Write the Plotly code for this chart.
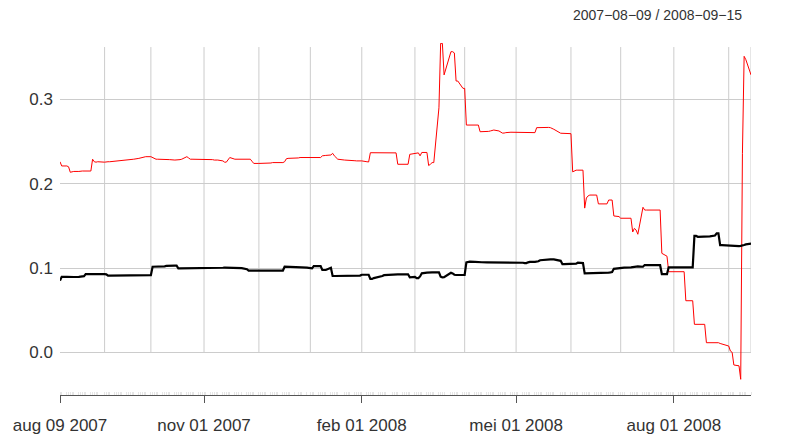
import pandas as pd
import plotly.graph_objects as go

# ---------------- data ----------------
start_date = "2007-08-09"
end_date = "2008-09-15"
holidays = ["2007-09-03", "2007-11-22", "2007-12-25", "2008-01-01", "2008-01-21",
            "2008-02-18", "2008-03-21", "2008-05-26", "2008-07-04", "2008-09-01"]

# red series, one list per month (trading days)
red_2007_08 = [0.226, 0.221, 0.221, 0.220, 0.2135, 0.214, 0.2145, 0.2145, 0.215, 0.215,
               0.215, 0.215, 0.215, 0.229, 0.226, 0.2255, 0.226]
red_2007_09 = [0.2255, 0.226, 0.226, 0.226, 0.2265, 0.227, 0.227, 0.227, 0.2275, 0.228,
               0.228, 0.228, 0.2285, 0.229, 0.230, 0.2305, 0.231, 0.2315, 0.232]
red_2007_10 = [0.232, 0.231, 0.2295, 0.229, 0.229, 0.229, 0.2288, 0.2285, 0.2285, 0.2285,
               0.228, 0.228, 0.228, 0.2285, 0.229, 0.232, 0.2305, 0.229, 0.229, 0.229,
               0.2288, 0.2285, 0.2285]
red_2007_11 = [0.2285, 0.2285, 0.2285, 0.2285, 0.228, 0.228, 0.228, 0.227, 0.2255, 0.2255,
               0.229, 0.231, 0.229, 0.229, 0.229, 0.229, 0.229, 0.229, 0.229, 0.2265, 0.224]
red_2007_12 = [0.224, 0.224, 0.2245, 0.2245, 0.2245, 0.2245, 0.225, 0.225, 0.225, 0.225,
               0.225, 0.226, 0.2295, 0.230, 0.230, 0.2305, 0.2305, 0.231, 0.231, 0.231]
red_2008_01 = [0.231, 0.231, 0.231, 0.2305, 0.231, 0.233, 0.233, 0.2335, 0.234, 0.236,
               0.233, 0.231, 0.229, 0.228, 0.228, 0.2278, 0.2275, 0.2272, 0.227, 0.227, 0.227]
red_2008_02 = [0.227, 0.226, 0.2257, 0.2367, 0.2367, 0.2367, 0.2367, 0.2367, 0.2365, 0.2365,
               0.2365, 0.2365, 0.2365, 0.2365, 0.223, 0.223, 0.223, 0.223, 0.223, 0.2348]
red_2008_03 = [0.2355, 0.2355, 0.2365, 0.233, 0.237, 0.237, 0.2215, 0.223, 0.225, 0.225,
               0.29, 0.3664, 0.3664, 0.329, 0.3565, 0.3565, 0.355, 0.3217, 0.3217, 0.313]
red_2008_04 = [0.313, 0.2695, 0.2695, 0.2695, 0.2695, 0.2695, 0.2695, 0.2616, 0.2616, 0.2618,
               0.262, 0.2625, 0.2632, 0.2636, 0.2625, 0.2612, 0.260, 0.260, 0.2605, 0.261,
               0.261, 0.261]
red_2008_05 = [0.261, 0.2612, 0.261, 0.261, 0.2608, 0.2605, 0.2605, 0.2605, 0.2664, 0.2665,
               0.2667, 0.2667, 0.2667, 0.2667, 0.2664, 0.2655, 0.2645, 0.2598, 0.2598, 0.2596,
               0.2595]
red_2008_06 = [0.2593, 0.214, 0.215, 0.216, 0.216, 0.216, 0.171, 0.183, 0.1855, 0.1865,
               0.1865, 0.1865, 0.176, 0.176, 0.176, 0.176, 0.1806, 0.1806, 0.1806, 0.1617, 0.161]
red_2008_07 = [0.159, 0.159, 0.159, 0.159, 0.1427, 0.147, 0.145, 0.140, 0.172, 0.1687,
               0.1687, 0.1687, 0.1687, 0.1687, 0.1687, 0.1687, 0.1687, 0.1174, 0.114, 0.0956,
               0.0956, 0.0956]
red_2008_08 = [0.0956, 0.0956, 0.0956, 0.0956, 0.0956, 0.0612, 0.0612, 0.0612, 0.0332, 0.0332,
               0.0332, 0.0332, 0.0332, 0.0114, 0.0114, 0.0114, 0.0114, 0.0114, 0.0114, 0.0105,
               0.0098]
red_2008_09 = [0.0075, 0.0015, 0.0, -0.015, -0.016, -0.032, 0.236, 0.351, 0.347, 0.329]

# black series, one list per month (trading days)
blk_2007_08 = [0.085, 0.0895, 0.0895, 0.0893, 0.0893, 0.0893, 0.0893, 0.0895, 0.0897, 0.09,
               0.0903, 0.0928, 0.093, 0.093, 0.093, 0.093, 0.093]
blk_2007_09 = [0.0928, 0.0925, 0.091, 0.091, 0.091, 0.091, 0.0908, 0.0908, 0.0908, 0.0908,
               0.091, 0.091, 0.091, 0.091, 0.091, 0.091, 0.091, 0.0912, 0.0912]
blk_2007_10 = [0.0915, 0.1015, 0.1015, 0.1015, 0.1015, 0.1015, 0.102, 0.1025, 0.1027, 0.1027,
               0.1027, 0.1027, 0.0996, 0.0996, 0.0996, 0.0996, 0.0996, 0.0996, 0.0996, 0.0996,
               0.0998, 0.0998, 0.0998]
blk_2007_11 = [0.0998, 0.1, 0.1, 0.1, 0.1, 0.1, 0.1, 0.1003, 0.1005, 0.1005,
               0.1, 0.0998, 0.0998, 0.0998, 0.0998, 0.0998, 0.0985, 0.0968, 0.0968, 0.0968, 0.0968]
blk_2007_12 = [0.0968, 0.097, 0.097, 0.097, 0.097, 0.097, 0.0972, 0.0972, 0.0972, 0.0972,
               0.097, 0.1015, 0.1015, 0.1015, 0.1012, 0.1012, 0.101, 0.101, 0.1008, 0.1005]
blk_2008_01 = [0.0996, 0.0996, 0.1023, 0.1023, 0.1023, 0.0976, 0.0976, 0.0976, 0.1003, 0.0905,
               0.0905, 0.0905, 0.0905, 0.0905, 0.0905, 0.0905, 0.0905, 0.0905, 0.0905, 0.0907,
               0.091]
blk_2008_02 = [0.092, 0.092, 0.092, 0.087, 0.087, 0.088, 0.089, 0.0895, 0.0905, 0.0915,
               0.0917, 0.092, 0.0922, 0.0925, 0.0925, 0.0925, 0.0925, 0.0925, 0.0925, 0.089]
blk_2008_03 = [0.0895, 0.088, 0.088, 0.09, 0.0937, 0.0945, 0.0949, 0.0949, 0.0949, 0.0949,
               0.0949, 0.0897, 0.0888, 0.089, 0.0944, 0.0935, 0.092, 0.0917, 0.0917, 0.0917]
blk_2008_04 = [0.0917, 0.1067, 0.1072, 0.1075, 0.1072, 0.107, 0.107, 0.1068, 0.1068, 0.1067,
               0.1067, 0.1067, 0.1067, 0.1067, 0.1067, 0.1065, 0.1067, 0.1067, 0.1067, 0.1067,
               0.1067, 0.1067]
blk_2008_05 = [0.1067, 0.1067, 0.1062, 0.1058, 0.1058, 0.1067, 0.1072, 0.1072, 0.1075, 0.108,
               0.1092, 0.1095, 0.1097, 0.11, 0.1103, 0.1103, 0.1103, 0.1085, 0.1047, 0.1047,
               0.1047]
blk_2008_06 = [0.1047, 0.1047, 0.1047, 0.1052, 0.1063, 0.1058, 0.0937, 0.0937, 0.0937, 0.0937,
               0.0937, 0.0937, 0.0937, 0.0937, 0.094, 0.0942, 0.0945, 0.0948, 0.0952, 0.099, 0.1]
blk_2008_07 = [0.1003, 0.1005, 0.1005, 0.1008, 0.101, 0.101, 0.1015, 0.102, 0.1015, 0.1035,
               0.1035, 0.1035, 0.1035, 0.1035, 0.1035, 0.1033, 0.1033, 0.0928, 0.0928, 0.1008,
               0.1008, 0.1008]
blk_2008_08 = [0.1008, 0.1005, 0.1005, 0.1005, 0.1005, 0.1005, 0.1008, 0.1008, 0.138, 0.138,
               0.137, 0.137, 0.1373, 0.1375, 0.1375, 0.1375, 0.1385, 0.141, 0.141, 0.1272, 0.1272]
blk_2008_09 = [0.1265, 0.1262, 0.126, 0.126, 0.126, 0.1262, 0.1265, 0.1272, 0.128, 0.1288]

y_tick_values = [0.0, 0.1, 0.2, 0.3]
y_tick_labels = ["0.0", "0.1", "0.2", "0.3"]
x_label_dates = ["2007-08-09", "2007-11-01", "2008-02-01", "2008-05-01", "2008-08-01"]
x_label_texts = ["aug 09 2007", "nov 01 2007", "feb 01 2008", "mei 01 2008", "aug 01 2008"]
title_text = "2007\u221208\u221209 / 2008\u221209\u221215"

# ---------------- build index ----------------
hol = set(pd.to_datetime(holidays))
dates = [d for d in pd.bdate_range(start_date, end_date) if d not in hol]

red_months = [red_2007_08, red_2007_09, red_2007_10, red_2007_11, red_2007_12, red_2008_01,
              red_2008_02, red_2008_03, red_2008_04, red_2008_05, red_2008_06, red_2008_07,
              red_2008_08, red_2008_09]
blk_months = [blk_2007_08, blk_2007_09, blk_2007_10, blk_2007_11, blk_2007_12, blk_2008_01,
              blk_2008_02, blk_2008_03, blk_2008_04, blk_2008_05, blk_2008_06, blk_2008_07,
              blk_2008_08, blk_2008_09]

month_keys = []
month_counts = {}
for d in dates:
    k = (d.year, d.month)
    if k not in month_counts:
        month_keys.append(k)
        month_counts[k] = 0
    month_counts[k] += 1
for k, r, b in zip(month_keys, red_months, blk_months):
    if len(r) != month_counts[k] or len(b) != month_counts[k]:
        raise ValueError(f"length mismatch {k}: need {month_counts[k]}, red {len(r)}, blk {len(b)}")

red = [v for m in red_months for v in m]
blk = [v for m in blk_months for v in m]

# major ticks: first obs, first obs of each month, last obs
tick_dates = [dates[0]]
seen = {(dates[0].year, dates[0].month)}
for d in dates:
    if (d.year, d.month) not in seen:
        seen.add((d.year, d.month))
        tick_dates.append(d)
tick_dates.append(dates[-1])
lab_map = dict(zip(pd.to_datetime(x_label_dates), x_label_texts))
tick_text = [lab_map.get(d, "") for d in tick_dates]

# ---------------- figure ----------------
y_lo, y_hi = -0.0506, 0.3668
grid_top = 0.362
grid_col = "#CCCCCC"
txt_col = "#333333"
font_family = "Liberation Sans, Arial, sans-serif"

fig = go.Figure()
fig.add_trace(go.Scatter(x=dates, y=red, mode="lines",
                         line=dict(color="#FF0000", width=1), showlegend=False))
fig.add_trace(go.Scatter(x=dates, y=blk, mode="lines",
                         line=dict(color="#000000", width=2.2), showlegend=False))

shapes = []
for d in tick_dates[1:]:
    shapes.append(dict(type="line", xref="x", yref="y", x0=d, x1=d, y0=0.0, y1=grid_top,
                       line=dict(color=grid_col, width=1), layer="below"))

fig.update_layout(
    width=795, height=442,
    margin=dict(l=60, r=44, t=43, b=47, pad=0, autoexpand=False),
    paper_bgcolor="white", plot_bgcolor="white",
    font=dict(family=font_family, color=txt_col, size=17),
    shapes=shapes,
    xaxis=dict(type="date", range=[dates[0], dates[-1]], automargin=False,
               tickmode="array", tickvals=tick_dates, ticktext=tick_text,
               ticks="outside", ticklen=7, tickwidth=1, tickcolor="#555555",
               showline=True, linecolor="#555555", linewidth=1,
               showgrid=False, zeroline=False,
               tickfont=dict(size=17, color=txt_col), ticklabelstandoff=8,
               minor=dict(tickmode="array", tickvals=dates, ticks="inside", ticklen=3,
                          tickwidth=1, tickcolor="#E6E6E6", showgrid=False)),
    yaxis=dict(range=[y_lo, y_hi], tickmode="array", tickvals=y_tick_values, automargin=False,
               ticktext=y_tick_labels, showgrid=True, gridcolor=grid_col, gridwidth=1,
               zeroline=False, showline=False, ticks="",
               tickfont=dict(size=17, color=txt_col), ticklabelstandoff=6),
    yaxis2=dict(range=[y_lo, y_hi], tickmode="array", tickvals=y_tick_values, automargin=False,
                ticktext=y_tick_labels, overlaying="y", side="right", showgrid=False,
                zeroline=False, showline=False, ticks="",
                tickfont=dict(size=17, color=txt_col), ticklabelstandoff=20),
    annotations=[dict(text=title_text, xref="paper", yref="paper", x=1, y=1,
                      xanchor="right", yanchor="middle", xshift=-7, yshift=28,
                      showarrow=False, font=dict(size=14, color=txt_col))],
)

fig.write_html("out.html", config={"displayModeBar": False},
               post_script="document.body.style.margin='0px';")
